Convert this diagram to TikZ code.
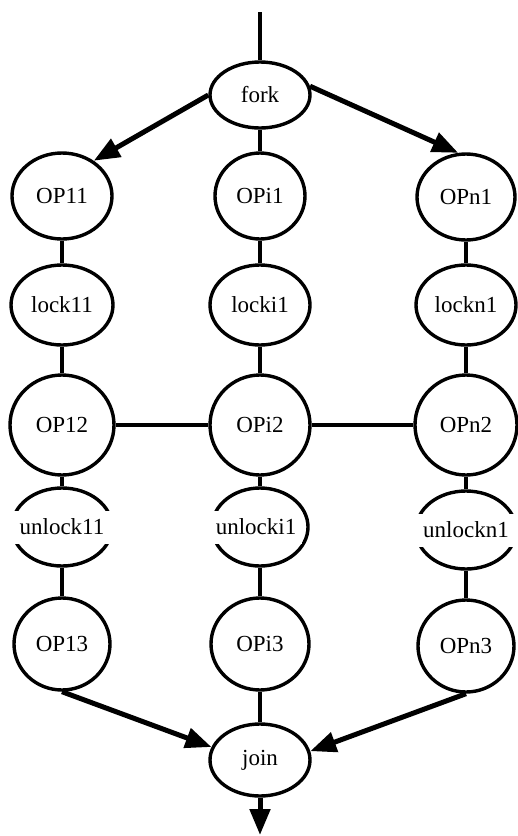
\documentclass[tikz,border=0pt]{standalone}
\usepackage{fontspec}
\setmainfont{Liberation Serif}
\usetikzlibrary{shapes.geometric,arrows.meta}
\tikzset{
  lbl/.style={font=\fontsize{11.5}{13}\selectfont},
  task/.style={ellipse, draw, line width=1.7pt, inner sep=0pt, lbl},
  link/.style={line width=1.6pt},
  flow/.style={line width=2.5pt, -{Triangle[length=13pt,width=10pt]}},
  gapbox/.style={fill=white, inner sep=0pt, minimum height=16.5pt, lbl},
}
\begin{document}
\begin{tikzpicture}[x=0.5pt, y=-0.5pt]
  \useasboundingbox (0,0) rectangle (518,836);
  % fork
  \node[task, minimum width=50pt, minimum height=33pt] (fork) at (260,95) {fork};
  % first operations
  \node[task, minimum width=50pt, minimum height=43pt] (op11) at (62,196) {OP11};
  \node[task, minimum width=45pt, minimum height=43pt] (opi1) at (260,196) {OPi1};
  \node[task, minimum width=49pt, minimum height=43pt] (opn1) at (466,197) {OPn1};
  % locks
  \node[task, minimum width=51pt, minimum height=40pt] (lk1) at (62,305) {lock11};
  \node[task, minimum width=50pt, minimum height=40pt] (lki) at (260,305) {locki1};
  \node[task, minimum width=50pt, minimum height=40pt] (lkn) at (466,305) {lockn1};
  % second operations
  \node[task, minimum width=52pt, minimum height=50pt] (op12) at (62,425) {OP12};
  \node[task, minimum width=50pt, minimum height=50pt] (opi2) at (260,425) {OPi2};
  \node[task, minimum width=51pt, minimum height=50pt] (opn2) at (466,425) {OPn2};
  % unlocks (label boxes cut the outline)
  \node[task, minimum width=50pt, minimum height=39pt] (ul1) at (62,527) {};
  \node[gapbox, minimum width=52pt] (ul1t) at (ul1) {unlock11};
  \node[task, minimum width=48pt, minimum height=39pt] (uli) at (260,527) {};
  \node[gapbox, minimum width=46pt] (ulit) at ([xshift=-2pt]uli.center) {unlocki1};
  \node[task, minimum width=50pt, minimum height=39pt] (uln) at (466,530) {};
  \node[gapbox, minimum width=52pt] (ulnt) at (uln) {unlockn1};
  % third operations
  \node[task, minimum width=48pt, minimum height=46pt] (op13) at (62,644) {OP13};
  \node[task, minimum width=49pt, minimum height=46pt] (opi3) at (260,644) {OPi3};
  \node[task, minimum width=48pt, minimum height=46pt] (opn3) at (466,646) {OPn3};
  % join
  \node[task, minimum width=50pt, minimum height=36pt] (join) at (260,760) {join};
  \coordinate (in) at (260,12);
  \coordinate (out) at (260,835);

  % incoming and outgoing
  \draw[link] (in) -- (fork);
  \draw[flow] (join) -- (out);
  % fork branches
  \draw[flow] (fork.west) -- (op11.48);
  \draw[flow] (fork.10) -- (opn1.100);
  \draw[link] (fork) -- (opi1);
  % chains
  \foreach \a/\b in {op11/lk1, lk1/op12, op12/ul1, ul1/op13,
                     opi1/lki, lki/opi2, opi2/uli, uli/opi3, opi3/join,
                     opn1/lkn, lkn/opn2, opn2/uln, uln/opn3}
    \draw[link] (\a) -- (\b);
  % cross links
  \draw[link] (op12) -- (opi2);
  \draw[link] (opi2) -- (opn2);
  % join branches
  \draw[flow] (op13.south) -- (join.165);
  \draw[flow] (opn3.south) -- (join.10);
\end{tikzpicture}
\end{document}
